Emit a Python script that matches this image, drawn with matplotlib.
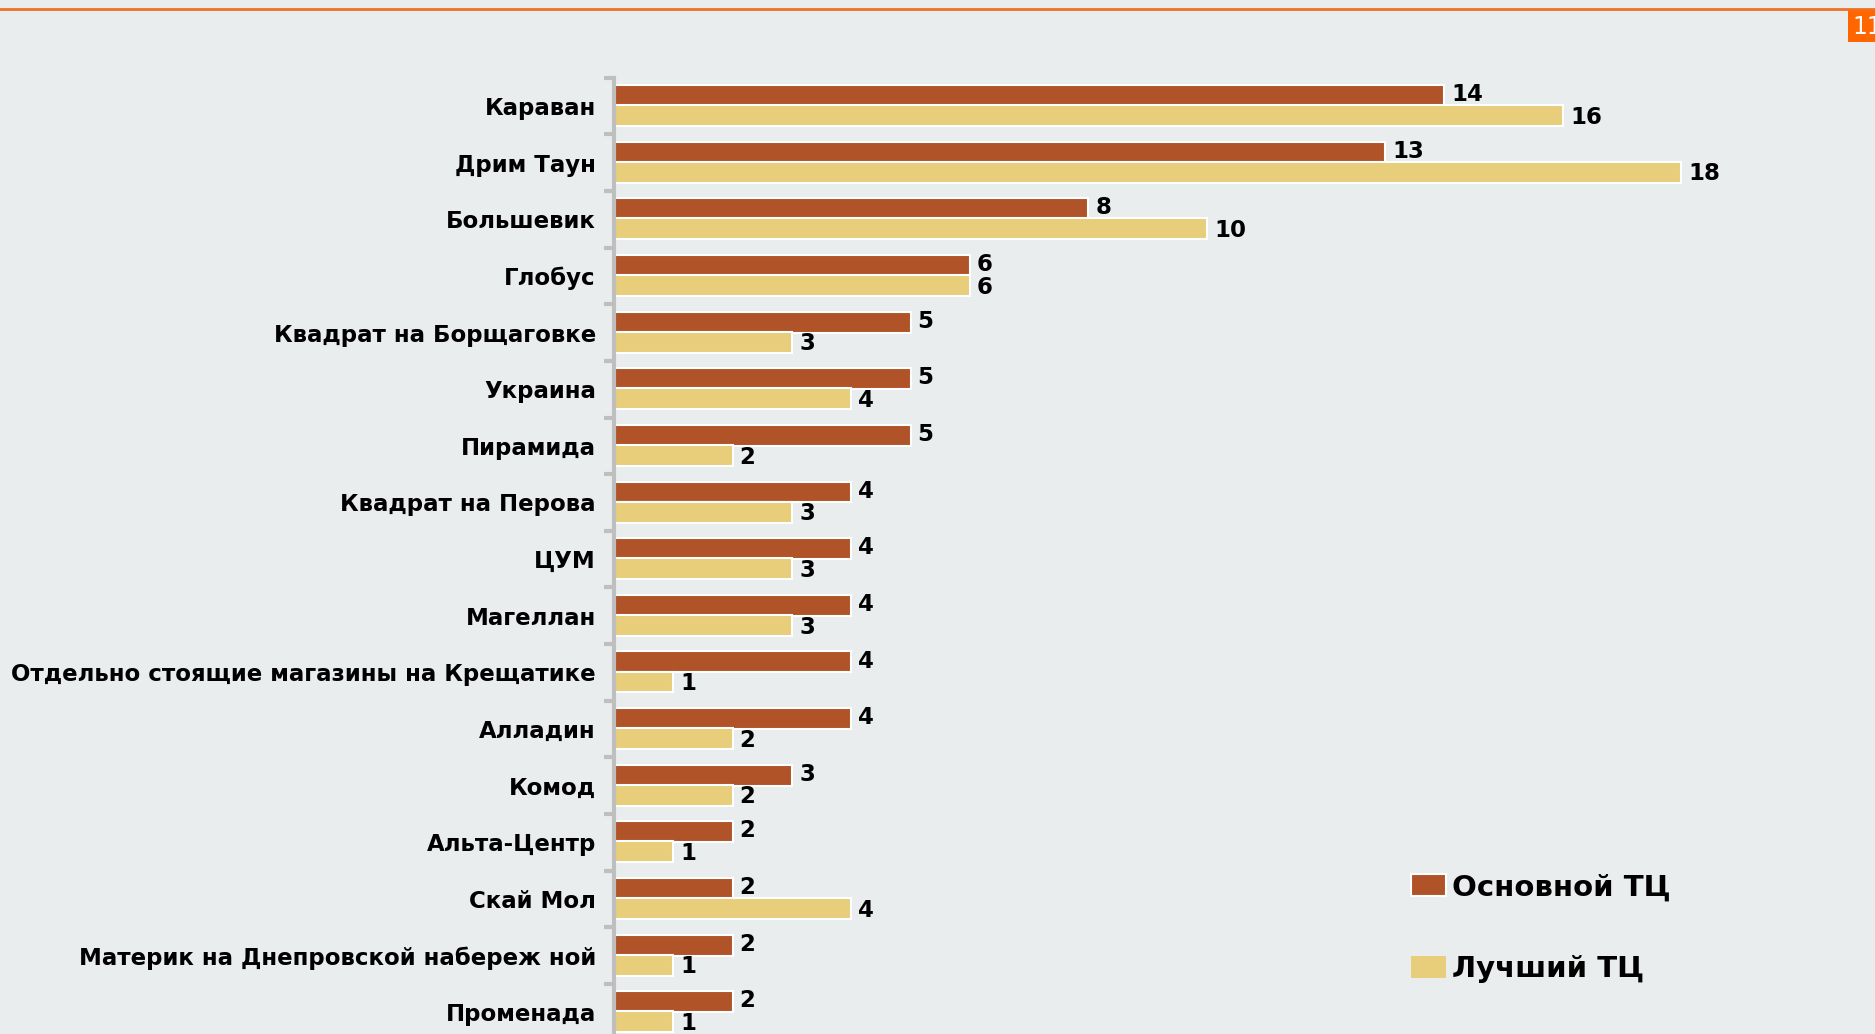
import numpy as np
import matplotlib.pyplot as plt
import matplotlib.patches as mpatches

# данные
categories = ['Караван', 'Дрим Таун', 'Большевик', 'Глобус', 'Квадрат на Борщаговке',
              'Украина', 'Пирамида', 'Квадрат на Перова', 'ЦУМ', 'Магеллан',
              'Отдельно стоящие магазины на Крещатике', 'Алладин', 'Комод', 'Альта-Центр',
              'Скай Мол', 'Материк на Днепровской набереж ной', 'Променада']
main_tc = [14, 13, 8, 6, 5, 5, 5, 4, 4, 4, 4, 4, 3, 2, 2, 2, 2]
best_tc = [16, 18, 10, 6, 3, 4, 2, 3, 3, 3, 1, 2, 2, 1, 4, 1, 1]
series_names = ['Основной ТЦ', 'Лучший ТЦ']

bg = '#E9EDEE'
c_main = '#B05328'
c_best = '#E8CD7A'

plt.rcParams['font.family'] = ['DejaVu Sans']
plt.rcParams['font.weight'] = 'bold'

fig = plt.figure(figsize=(18.75, 10.34), dpi=100)
fig.patch.set_facecolor(bg)

W, H = 1875, 1034
x0, xr = 614, 614 + 20 * 59.3
ytop, ybot = 77.7, 1040.5
ax = fig.add_axes([x0 / W, (H - ybot) / H, (xr - x0) / W, (ybot - ytop) / H])
ax.set_facecolor(bg)

y = np.arange(len(categories))
h = 0.37
ax.barh(y - 0.185, main_tc, height=h, color=c_main, edgecolor='white', linewidth=1.5)
ax.barh(y + 0.17, best_tc, height=h, color=c_best, edgecolor='white', linewidth=1.5)

for yi, v in zip(y, main_tc):
    ax.text(v + 0.12, yi - 0.2, str(v), va='center', ha='left', fontsize=16.5, fontweight='bold')
for yi, v in zip(y, best_tc):
    ax.text(v + 0.12, yi + 0.2, str(v), va='center', ha='left', fontsize=16.5, fontweight='bold')

ax.set_xlim(0, 20)
ax.set_ylim(len(categories) - 0.5, -0.5)
ax.set_yticks(y)
ax.set_yticklabels(categories, fontsize=16.5, fontweight='bold')
ax.tick_params(axis='y', which='major', length=0, pad=13)
ax.set_yticks(np.arange(-0.5, len(categories), 1), minor=True)
ax.tick_params(axis='y', which='minor', length=7, width=3, color='#BFBFBF')
ax.set_xticks([])
for s in ['top', 'right', 'bottom']:
    ax.spines[s].set_visible(False)
ax.spines['left'].set_color('#BFBFBF')
ax.spines['left'].set_linewidth(3)

handles = [mpatches.Patch(facecolor=c_main, edgecolor='white', linewidth=1.5),
           mpatches.Patch(facecolor=c_best, edgecolor='white', linewidth=0)]
fig.legend(handles, series_names, loc='upper left', bbox_to_anchor=(1385 / W, 1 - 847 / H),
           frameon=False, prop={'size': 21, 'weight': 'bold'}, handlelength=1.2,
           handleheight=0.75, handletextpad=0.2, labelspacing=1.85)

# оранжевая линия сверху и номер страницы
fig.add_artist(plt.Line2D([0, 1], [1 - 8.5 / H, 1 - 8.5 / H], color='#F07022', linewidth=2))
fig.add_artist(mpatches.Rectangle((1848 / W, 1 - 42 / H), 30 / W, 32 / H,
                                  facecolor='#FF6600', edgecolor='none'))
fig.text(1852 / W, 1 - 27 / H, '11', color='white', fontsize=17, fontweight='normal',
         va='center', ha='left')

fig.savefig('out.png', dpi=100, facecolor=bg)
